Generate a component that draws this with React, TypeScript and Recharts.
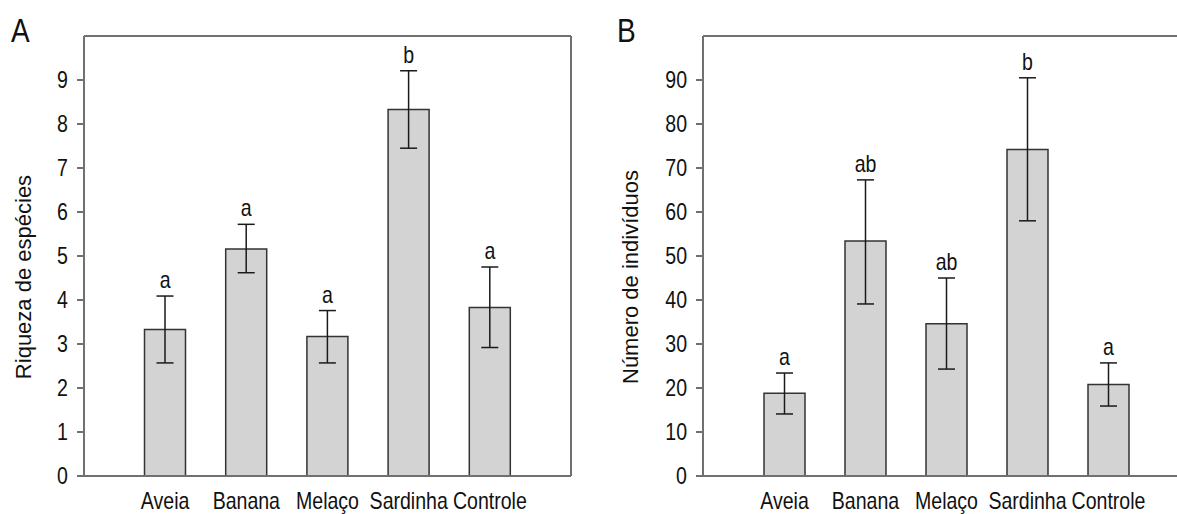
import React from "react";
import {
  ComposedChart,
  Bar,
  Line,
  XAxis,
  YAxis,
  ErrorBar,
  LabelList,
  Label,
  ReferenceLine,
} from "recharts";

const categories = ["Aveia", "Banana", "Melaço", "Sardinha", "Controle"];

// A: riqueza de espécies
const riquezaMean = [3.33, 5.16, 3.17, 8.33, 3.83];
const riquezaLow = [2.57, 4.62, 2.57, 7.45, 2.92];
const riquezaHigh = [4.09, 5.72, 3.76, 9.21, 4.75];
const riquezaLetters = ["a", "a", "a", "b", "a"];
const riquezaTicks = [0, 1, 2, 3, 4, 5, 6, 7, 8, 9];

// B: número de indivíduos
const individuosMean = [18.8, 53.4, 34.6, 74.2, 20.8];
const individuosLow = [14.1, 39.1, 24.3, 58.0, 15.9];
const individuosHigh = [23.4, 67.3, 45.0, 90.5, 25.7];
const individuosLetters = ["a", "ab", "ab", "b", "a"];
const individuosTicks = [0, 10, 20, 30, 40, 50, 60, 70, 80, 90];

const FONT = "'Liberation Sans', Arial, sans-serif";
const SQUEEZE = 0.85;
const AXIS = "#707070";

function buildRows(mean: number[], low: number[], high: number[], letters: string[]) {
  return categories.map((name, i) => ({
    name,
    mean: mean[i],
    err: [mean[i] - low[i], high[i] - mean[i]],
    top: high[i],
    letter: letters[i],
  }));
}

function YTick(props: any) {
  const { x, y, payload } = props;
  return (
    <text
      transform={`translate(${x},${y}) scale(${SQUEEZE},1)`}
      textAnchor="end"
      dy="0.36em"
      fontFamily={FONT}
      fontSize={23}
      fill="#111"
    >
      {payload.value}
    </text>
  );
}

function XTick(props: any) {
  const { x, y, payload } = props;
  return (
    <text
      transform={`translate(${x},${y}) scale(${SQUEEZE},1)`}
      textAnchor="middle"
      dy="0.71em"
      fontFamily={FONT}
      fontSize={23}
      fill="#111"
    >
      {payload.value}
    </text>
  );
}

function LetterLabel(props: any) {
  const { x, y, value } = props;
  if (x == null || y == null) return null;
  return (
    <text
      transform={`translate(${x},${y - 8}) scale(${SQUEEZE},1)`}
      textAnchor="middle"
      fontFamily={FONT}
      fontSize={23}
      fill="#111"
    >
      {value}
    </text>
  );
}

type PanelProps = {
  rows: ReturnType<typeof buildRows>;
  ticks: number[];
  max: number;
  title: string;
  width: number;
  yWidth: number;
  rightMargin: number;
  titleX: number;
  pad: number;
};

function Panel({ rows, ticks, max, title, width, yWidth, rightMargin, titleX, pad }: PanelProps) {
  return (
    <ComposedChart
      width={width}
      height={514}
      data={rows}
      margin={{ top: 35, right: rightMargin, bottom: 0, left: 0 }}
    >
      <XAxis
        dataKey="name"
        height={38}
        padding={{ left: pad, right: pad }}
        tickLine={false}
        tickSize={0}
        tickMargin={17}
        tick={<XTick />}
        axisLine={{ stroke: AXIS, strokeWidth: 2 }}
        interval={0}
      />
      <XAxis
        xAxisId="top"
        orientation="top"
        dataKey="name"
        height={1}
        padding={{ left: pad, right: pad }}
        tick={false}
        tickLine={false}
        axisLine={{ stroke: AXIS, strokeWidth: 2 }}
      />
      <YAxis
        width={yWidth}
        domain={[0, max]}
        ticks={ticks}
        tickSize={7}
        tickMargin={9}
        tick={<YTick />}
        tickLine={{ stroke: AXIS, strokeWidth: 2 }}
        axisLine={{ stroke: AXIS, strokeWidth: 2 }}
        interval={0}
      >
        <Label
          content={(p: any) => {
            const vb = p.viewBox || {};
            const cx = (vb.x ?? 0) + titleX;
            const cy = (vb.y ?? 36) + (vb.height ?? 440) / 2 + 21;
            return (
              <text
                transform={`translate(${cx},${cy}) rotate(-90)`}
                textAnchor="middle"
                dy="0.36em"
                fontFamily={FONT}
                fontSize={22}
                fill="#111"
              >
                {title}
              </text>
            );
          }}
        />
      </YAxis>
      <YAxis
        yAxisId="right"
        orientation="right"
        width={1}
        domain={[0, max]}
        tick={false}
        tickLine={false}
        axisLine={{ stroke: AXIS, strokeWidth: 2 }}
      />
      <ReferenceLine y={max} stroke={AXIS} strokeWidth={2} />
      <Bar
        dataKey="mean"
        barSize={41}
        fill="#d3d3d3"
        stroke="#333"
        strokeWidth={1.5}
        isAnimationActive={false}
      >
        <ErrorBar
          dataKey="err"
          width={8.5}
          stroke="#1a1a1a"
          strokeWidth={1.5}
          isAnimationActive={false}
        />
      </Bar>
      <Line
        xAxisId="top"
        yAxisId="right"
        dataKey="top"
        stroke="none"
        dot={false}
        activeDot={false}
        isAnimationActive={false}
      >
        <LabelList dataKey="letter" content={<LetterLabel />} />
      </Line>
    </ComposedChart>
  );
}

export default function App() {
  const rowsA = buildRows(riquezaMean, riquezaLow, riquezaHigh, riquezaLetters);
  const rowsB = buildRows(individuosMean, individuosLow, individuosHigh, individuosLetters);
  return (
    <div
      style={{
        position: "absolute",
        left: 0,
        top: 0,
        width: 1177,
        height: 514,
        background: "#fff",
        overflow: "hidden",
      }}
    >
      <div style={{ position: "absolute", left: 0, top: 0 }}>
        <Panel
          rows={rowsA}
          ticks={riquezaTicks}
          max={10}
          title="Riqueza de espécies"
          width={591}
          yWidth={84}
          rightMargin={19}
          titleX={23}
          pad={40.5}
        />
      </div>
      <div style={{ position: "absolute", left: 590, top: 0, width: 587, height: 514, overflow: "hidden" }}>
        <Panel
          rows={rowsB}
          ticks={individuosTicks}
          max={100}
          title="Número de indivíduos"
          width={601}
          yWidth={113}
          rightMargin={0}
          titleX={40}
          pad={41}
        />
      </div>
      <svg
        width={1177}
        height={514}
        style={{ position: "absolute", left: 0, top: 0, pointerEvents: "none" }}
      >
        <text transform={`translate(11,42) scale(${SQUEEZE},1)`} fontFamily={FONT} fontSize={33} fill="#111">
          A
        </text>
        <text transform={`translate(617,42) scale(${SQUEEZE},1)`} fontFamily={FONT} fontSize={33} fill="#111">
          B
        </text>
      </svg>
    </div>
  );
}
